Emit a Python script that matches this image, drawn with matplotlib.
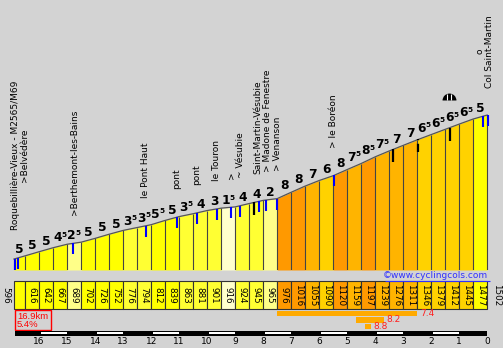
import numpy as np
import matplotlib.pyplot as plt
from matplotlib.patches import Rectangle

# climb profile: elevation at every point, segment lengths (km), gradient per segment (%)
elev = [596, 616, 642, 667, 689, 702, 726, 752, 776, 794, 812, 839, 863, 881, 901, 916,
        924, 945, 965, 976, 1016, 1055, 1090, 1120, 1159, 1197, 1239, 1276, 1311, 1346,
        1379, 1412, 1445, 1477, 1502]
seg_km = [0.4] + [0.5] * 33
grades = [5, 5, 5, 4.5, 2.5, 5, 5, 5, 3.5, 3.5, 5.5, 5, 3.5, 4, 3, 1.5, 4, 4, 2,
          8, 8, 7, 6, 8, 7.5, 8.5, 7.5, 7, 7, 6.5, 6.5, 6.5, 6.5, 5]

# places along the road (km from start)
place_km = [0.2, 2.16, 4.70, 5.81, 6.52, 7.25, 7.75, 8.08, 8.70, 9.04, 9.40, 11.42, 16.82]
place_names = ["Roquebillière-Vieux - M2565/M69\n>Belvédère", ">Berthemont-les-Bains",
               "le Pont Haut", "pont", "pont", "le Touron", ">", "~ Vésubie",
               "Saint-Martin-Vésubie", "> Madone de Fenestre", "> Venanson",
               "> le Boréon", "o\nCol Saint-Martin"]
blue_marks = [0.04, 0.16, 2.12, 4.70, 5.81, 6.52, 7.25, 7.75, 8.07, 8.75, 9.0, 9.38,
              11.42, 16.75, 16.92]
black_marks = [8.58, 13.54, 14.44, 15.57]
pass_icon_km = 15.54

# steepest parts: start km, length km, gradient
best_start = [9.4, 12.21, 12.54]
best_len = [5.0, 1.0, 0.2]
best_val = [7.4, 8.2, 8.8]

total_km = 16.9
avg_grade = 5.4
km_ticks = list(range(16, -1, -1))

bg = '#d3d3d3'
px_per_m = 0.1589


def grade_color(g):
    if g < 2:
        return '#ffffcc'
    if g < 3:
        return '#ffff88'
    if g < 4.5:
        return '#ffff33'
    if g < 6:
        return '#ffff00'
    if g < 7:
        return '#ffd200'
    if g < 8:
        return '#ffb400'
    return '#ff9900'


dist = np.concatenate([[0], np.cumsum(seg_km)])
base = 596 - 11 / px_per_m
top = 596 + 259 / px_per_m
xlim = (-14 / 28, (503 - 14) / 28)

fig = plt.figure(figsize=(5.03, 3.48), dpi=100, facecolor=bg)
ax = fig.add_axes([0, 78 / 348, 1, 270 / 348])
ax2 = fig.add_axes([0, 0, 1, 78 / 348])
for a in (ax, ax2):
    a.set_facecolor(bg)
    a.set_xlim(*xlim)
    a.axis('off')
ax.set_ylim(base, top)
ax2.set_ylim(348, 270)

# profile columns
for i, g in enumerate(grades):
    ax.fill_between(dist[i:i + 2], [base, base], elev[i:i + 2], color=grade_color(g), lw=0)
ax.vlines(dist, base, elev, color='#444444', lw=0.8)
ax.plot(dist, elev, color='#555555', lw=0.9)

# gradient labels, half values written with a small superscript 5
for i, g in enumerate(grades):
    whole = int(g)
    pos = (dist[i] + seg_km[i] / 2, elev[i + 1])
    if g == whole:
        ax.annotate(str(whole), pos, xytext=(0, 2), textcoords='offset points',
                    ha='center', va='baseline', fontsize=8.8, fontweight='bold')
    else:
        ax.annotate(str(whole), pos, xytext=(-1.8, 2), textcoords='offset points',
                    ha='center', va='baseline', fontsize=8.8, fontweight='bold')
        ax.annotate('5', pos, xytext=(1.2, 5.2), textcoords='offset points',
                    ha='left', va='baseline', fontsize=5.2, fontweight='bold')

# marks and place names
mark_len = 11 / px_per_m
for d in blue_marks:
    e = np.interp(d, dist, elev)
    ax.vlines(d, e - mark_len, e, color='#0000ff', lw=1.5, zorder=3)
for j, d in enumerate(black_marks):
    e = np.interp(d, dist, elev)
    ls = '--' if j == 2 else '-'
    ax.vlines(d, e - 13 / px_per_m, e, color='black', lw=1.6, ls=ls, zorder=3)
for d, name in zip(place_km, place_names):
    e = np.interp(min(d, total_km), dist, elev)
    ax.annotate(name, (d, e), xytext=(0, 20), textcoords='offset points', rotation=90,
                ha='center', va='bottom', fontsize=6.5, linespacing=1.0)

pe = np.interp(pass_icon_km, dist, elev) + 28 / px_per_m
ax.plot(pass_icon_km, pe, marker='o', ms=10, fillstyle='top', color='black',
        markerfacecoloralt='none', markeredgewidth=0)
ax.vlines([pass_icon_km - 0.06, pass_icon_km + 0.08], pe, pe + 6 / px_per_m, color='white', lw=0.8)

# elevation cells
for i, g in enumerate(grades):
    ax2.add_patch(Rectangle((dist[i], 281), seg_km[i], 28, fc=grade_color(g), ec='#333333', lw=0.8))
    if i > 0:
        ax2.text(dist[i] + seg_km[i] / 2, 295, str(elev[i]), rotation=-90, ha='center',
                 va='center', fontsize=6.3)
ax2.text(-0.29, 295, str(elev[0]), rotation=-90, ha='center', va='center', fontsize=6.3)
ax2.text(total_km + 0.35, 295, str(elev[-1]), rotation=-90, ha='center', va='center', fontsize=6.3)

ax2.text(total_km + 0.03, 279.5, '©www.cyclingcols.com', color='#3030ff', fontsize=6.5,
         ha='right', va='bottom')
ax2.hlines(280.5, 13.25, total_km + 0.1, color='#3030ff', lw=0.8)

# summary box
ax2.add_patch(Rectangle((0.03, 310), 1.3, 19.5, fc='none', ec='#ff0000', lw=1))
ax2.text(0.1, 316.5, f'{total_km}km', color='#ff0000', fontsize=6.8, ha='left', va='center',
         family='Liberation Sans')
ax2.text(0.1, 324.5, f'{avg_grade}%', color='#ff0000', fontsize=6.8, ha='left', va='center',
         family='Liberation Sans')

# steepest stretches
for k, (s0, ln, v) in enumerate(zip(best_start, best_len, best_val)):
    y0 = 310.5 + k * 6.5
    ax2.add_patch(Rectangle((s0, y0), ln, 5.5, fc='#ffaa00', lw=0))
    ax2.text(s0 + ln + 0.1, y0 + 3, f'{v}', color='#ff2020', fontsize=6.5, ha='left',
             va='center')

# km scale
ax2.add_patch(Rectangle((0.03, 331), total_km - 0.03, 4.5, fc='black', lw=0))
for k in km_ticks[::2][:-1]:
    ax2.add_patch(Rectangle((total_km - k + 0.07, 332.2), 0.93, 2.0, fc='white', lw=0))
for k in km_ticks:
    ax2.text(total_km - k, 341, str(k), fontsize=6.5, ha='center', va='center')

fig.savefig('out.png', dpi=100, facecolor=bg)
